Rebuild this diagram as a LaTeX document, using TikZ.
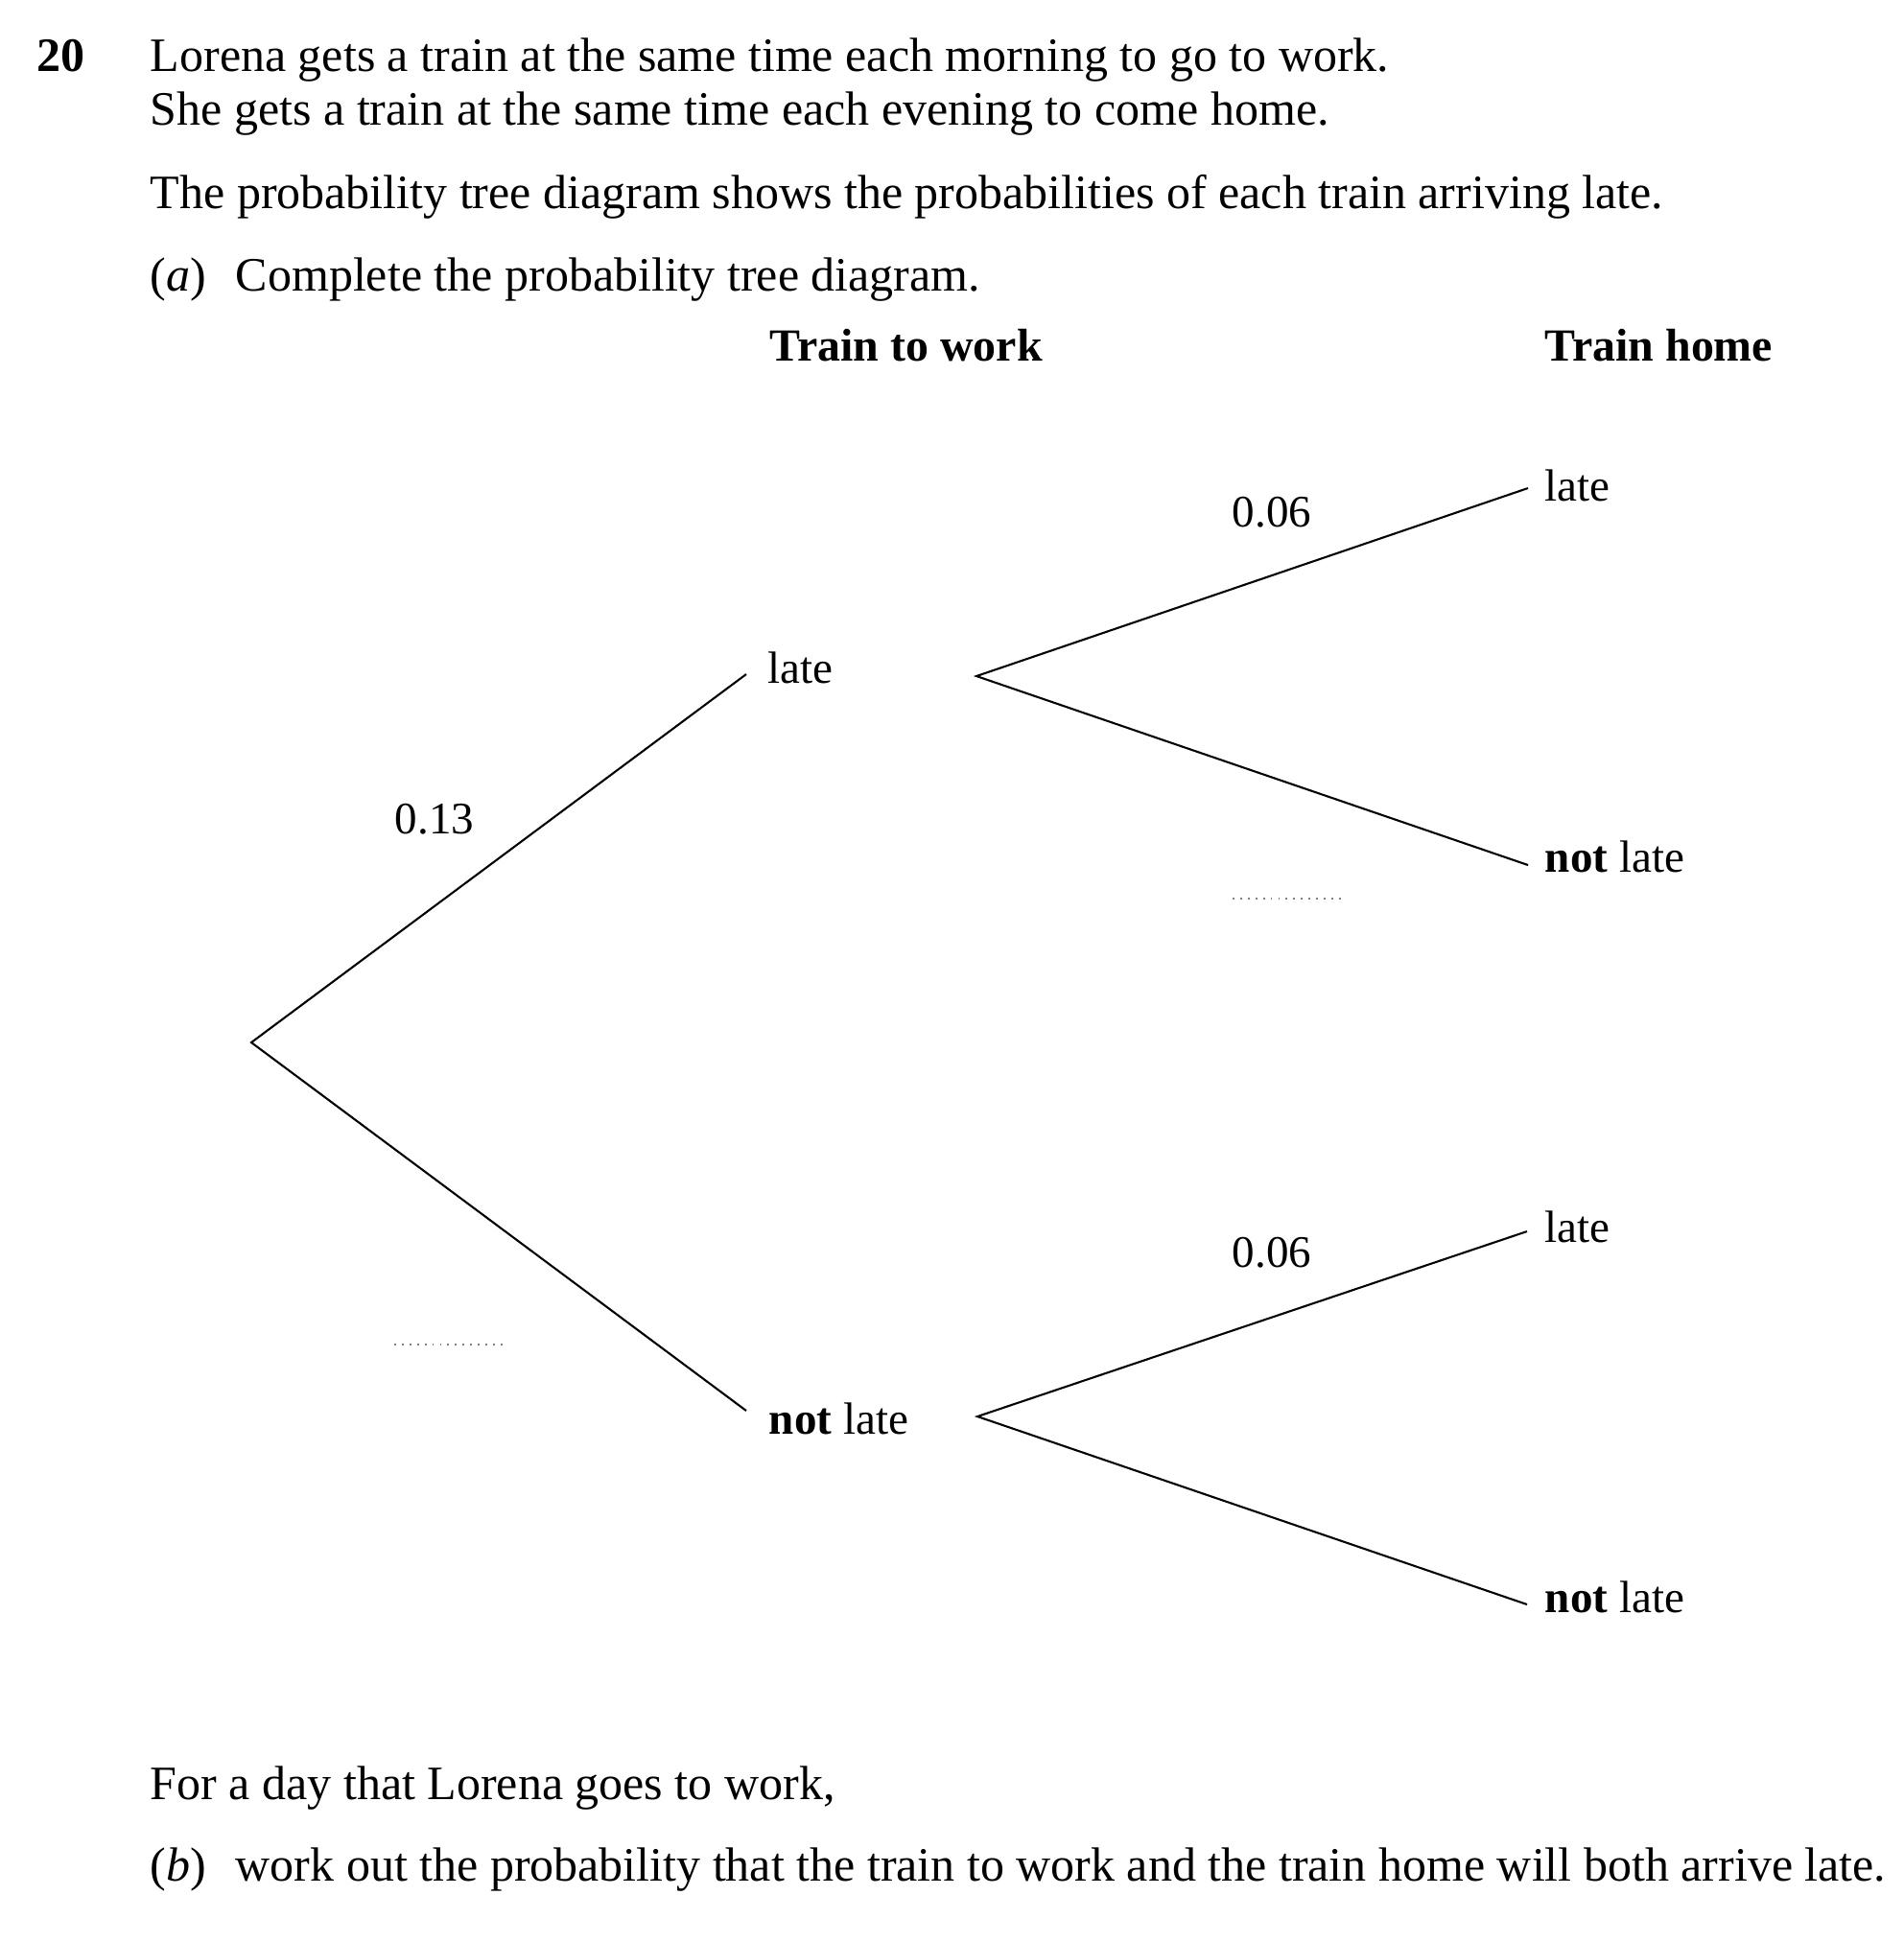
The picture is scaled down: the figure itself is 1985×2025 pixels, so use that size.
\documentclass[tikz,border=0pt]{standalone}
\usepackage{fontspec}
\setmainfont{Liberation Serif}
\begin{document}
\begin{tikzpicture}[x=0.24pt,y=-0.24pt,
  txt/.style={anchor=base west,inner sep=0pt,font=\fontsize{12}{14}\selectfont},
  lbl/.style={anchor=base west,inner sep=0pt,font=\fontsize{11.3}{13}\selectfont},
  head/.style={anchor=base west,inner sep=0pt,font=\fontsize{11.5}{13}\selectfont\bfseries},
  branch/.style={line width=0.5pt,black},
  answer/.style={line width=0.5pt,gray,dash pattern=on 0.45pt off 1.45pt}]
\useasboundingbox (0,0) rectangle (1985,2025);
% question text
\node[txt,font=\fontsize{12}{14}\selectfont\bfseries] (num) at (38,74) {20};
\node[txt] (l1) at (156,74) {Lorena gets a train at the same time each morning to go to work.};
\node[txt] (l2) at (156,130) {She gets a train at the same time each evening to come home.};
\node[txt] (l3) at (156,217) {The probability tree diagram shows the probabilities of each train arriving late.};
\node[txt] (pa) at (156,303) {(\textit{a})};
\node[txt] (l4) at (245,303) {Complete the probability tree diagram.};
% headings
\node[head] (h1) at (802,376) {Train to work};
\node[head] (h2) at (1610,376) {Train home};
% tree points
\coordinate (root) at (262,1087);
\coordinate (e1) at (778,703);
\coordinate (e2) at (778,1471);
\coordinate (v1) at (1018,705);
\coordinate (v2) at (1019,1477);
\coordinate (e11) at (1593,509);
\coordinate (e12) at (1593,902);
\coordinate (e21) at (1592,1284);
\coordinate (e22) at (1592,1673);
% labels
\node[lbl] (late1) at (800,712) {late};
\node[lbl] (notlate1) at (801,1495) {\textbf{not} late};
\node[lbl] (p013) at (411,869) {0.13};
\node[lbl] (late11) at (1610,522) {late};
\node[lbl] (notlate12) at (1610,909) {\textbf{not} late};
\node[lbl] (p006a) at (1284,549) {0.06};
\node[lbl] (late21) at (1610,1295) {late};
\node[lbl] (notlate22) at (1610,1681) {\textbf{not} late};
\node[lbl] (p006b) at (1284,1321) {0.06};
% branches
\draw[branch] (e1) -- (root) -- (e2);
\draw[branch] (e11) -- (v1) -- (e12);
\draw[branch] (e21) -- (v2) -- (e22);
% answer dots
\coordinate (d1a) at (411,1402); \coordinate (d1b) at (528,1402);
\coordinate (d2a) at (1285,937); \coordinate (d2b) at (1402,937);
\draw[answer] (d1a) -- (d1b);
\draw[answer] (d2a) -- (d2b);
% part b
\node[txt] (l5) at (156,1876) {For a day that Lorena goes to work,};
\node[txt] (pb) at (156,1961) {(\textit{b})};
\node[txt] (l6) at (245,1961) {work out the probability that the train to work and the train home will both arrive late.};
\end{tikzpicture}
\end{document}
